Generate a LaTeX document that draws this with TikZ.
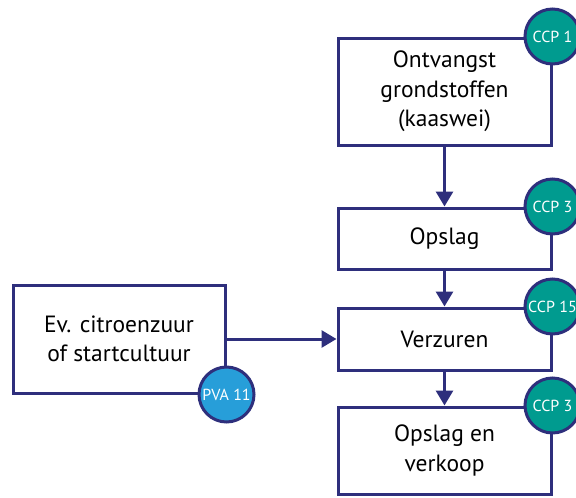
\documentclass[tikz,border=0pt]{standalone}
\usepackage{fontspec}
\setmainfont{PT Sans}
\usetikzlibrary{arrows.meta}
\definecolor{navy}{HTML}{2E2F7C}
\definecolor{ccpteal}{HTML}{009B8F}
\definecolor{pvablue}{HTML}{279ED9}
\tikzset{
  stepbox/.style={draw=navy, line width=3pt, fill=white, align=center,
    font=\fontsize{23.5}{29.5}\selectfont, inner sep=0pt},
  badge/.style={circle, draw=navy, line width=3pt, minimum size=55pt, inner sep=0pt,
    text=white, font=\fontsize{16}{18}\selectfont},
  ccp/.style={badge, fill=ccpteal},
  pva/.style={badge, fill=pvablue},
  flow/.style={draw=navy, line width=3pt, -{Triangle[width=17pt,length=15pt]}},
}
\begin{document}
\begin{tikzpicture}[x=1pt, y=-1pt]
  \useasboundingbox (0,0) rectangle (576,498);

  % process steps
  \node[stepbox, minimum width=213pt, minimum height=107pt] (ontv) at (444.5,91.5)
    {Ontvangst\\grondstoffen\\(kaaswei)};
  \node[stepbox, minimum width=213pt, minimum height=61pt] (opsl) at (444.5,238.5) {Opslag};
  \node[stepbox, minimum width=213pt, minimum height=62pt] (verz) at (444.5,339) {Verzuren};
  \node[stepbox, minimum width=213pt, minimum height=87pt] (verk) at (444.5,450.5)
    {Opslag en\\verkoop};
  \node[stepbox, minimum width=212pt, minimum height=108pt] (citr) at (119,339)
    {Ev. citroenzuur\\of startcultuur};

  % flow arrows
  \draw[flow] (ontv.south) -- (opsl.north);
  \draw[flow] (opsl.south) -- (verz.north);
  \draw[flow] (verz.south) -- (verk.north);
  \draw[flow] (citr.east) -- (verz.west);

  % control point badges
  \node[ccp] (c1) at (ontv.north east) {CCP 1};
  \node[ccp] (c2) at (opsl.north east) {CCP 3};
  \node[ccp] (c3) at (verz.north east) {CCP 15};
  \node[ccp] (c4) at (verk.north east) {CCP 3};
  \node[pva] (p1) at (citr.south east) {PVA 11};
\end{tikzpicture}
\end{document}
